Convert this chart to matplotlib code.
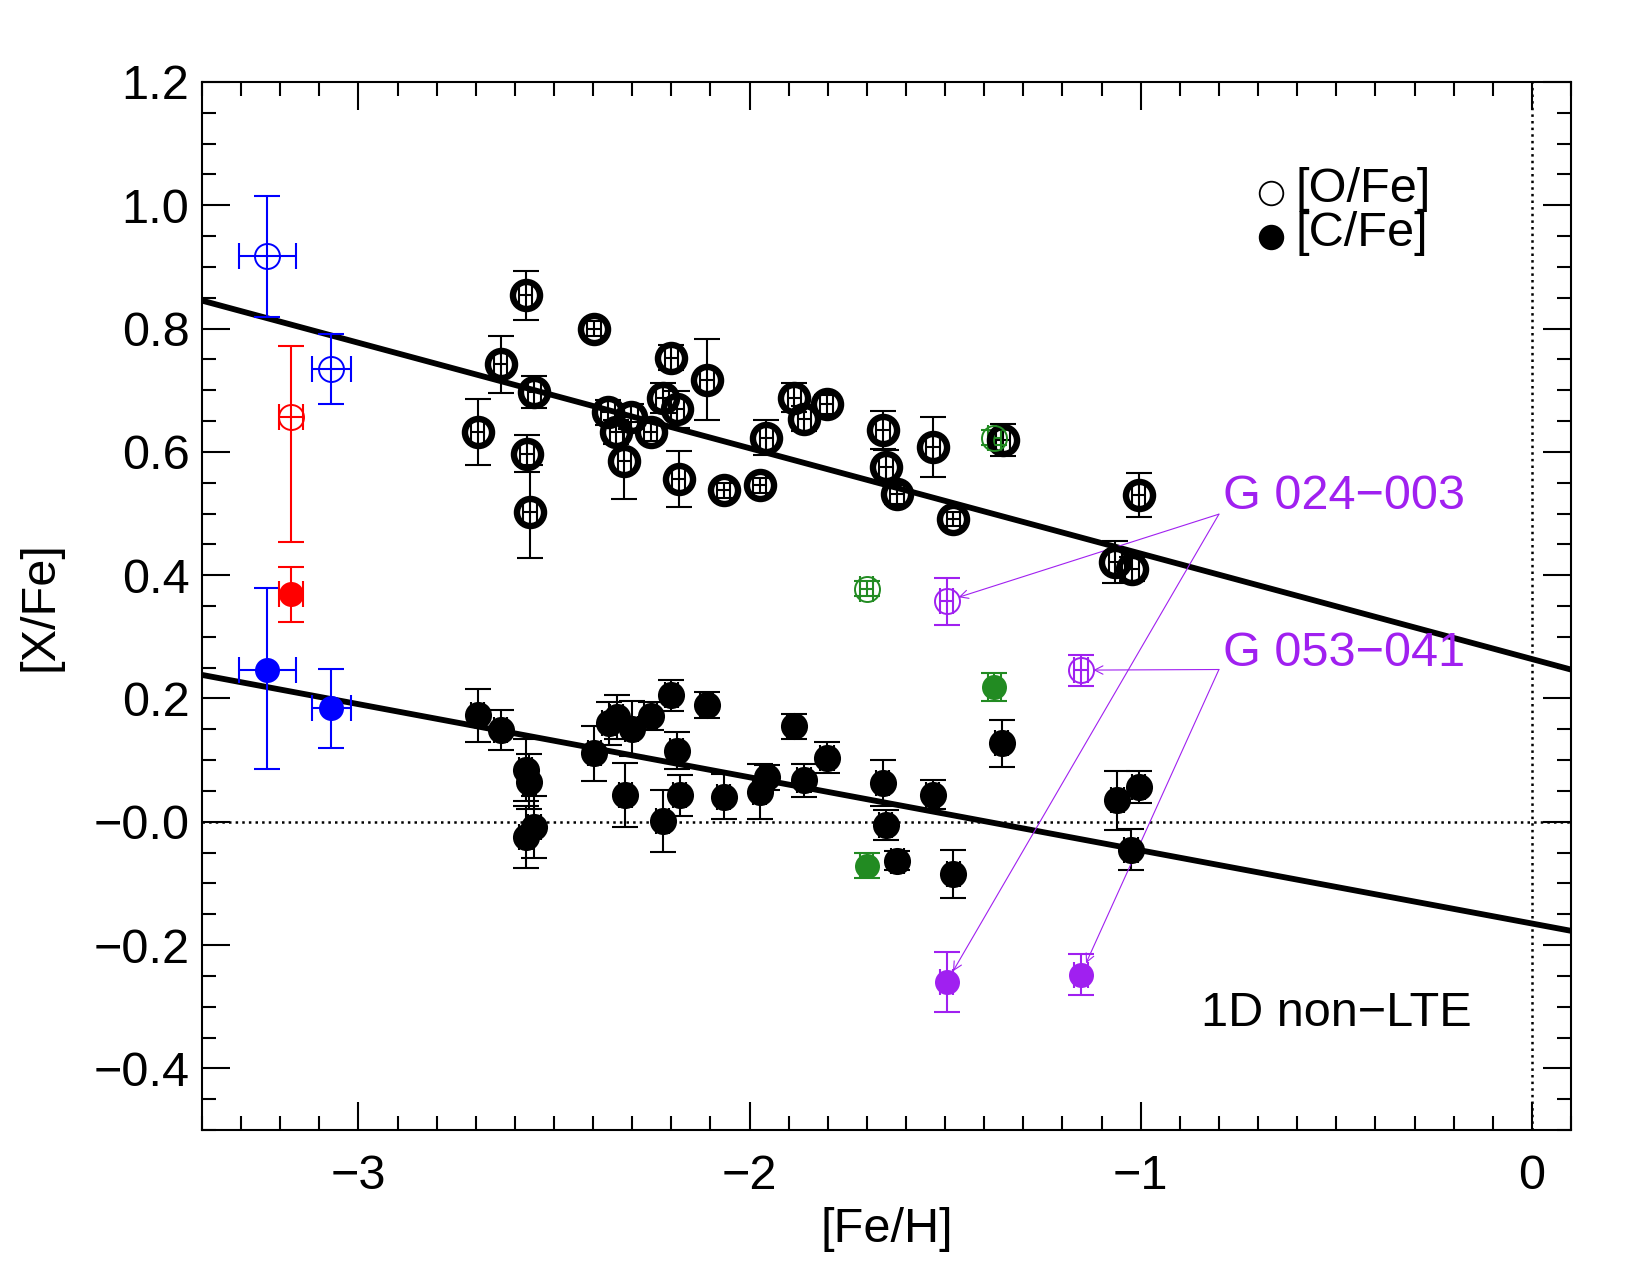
import numpy as np
import matplotlib
matplotlib.use("Agg")
import matplotlib.pyplot as plt

plt.rcParams['font.family'] = ['Liberation Sans', 'DejaVu Sans']

# black stars: [Fe/H], [O/Fe], err, [C/Fe], err
feh = [-2.695, -2.636, -2.572, -2.569, -2.561, -2.550, -2.398, -2.362, -2.341, -2.320,
       -2.303, -2.253, -2.222, -2.200, -2.185, -2.181, -2.109, -2.066, -1.974, -1.957,
       -1.886, -1.860, -1.803, -1.659, -1.651, -1.623, -1.531, -1.479, -1.352, -1.065,
       -1.022, -1.005]
ofe = [0.632, 0.742, 0.854, 0.597, 0.503, 0.697, 0.800, 0.664, 0.632, 0.586,
       0.657, 0.632, 0.687, 0.753, 0.669, 0.556, 0.717, 0.538, 0.546, 0.623,
       0.688, 0.654, 0.677, 0.635, 0.576, 0.531, 0.608, 0.491, 0.619, 0.421,
       0.410, 0.530]
ofe_err = [0.053, 0.046, 0.040, 0.030, 0.075, 0.026, 0.012, 0.020, 0.020, 0.063,
           0.020, 0.015, 0.024, 0.020, 0.030, 0.045, 0.066, 0.012, 0.012, 0.028,
           0.024, 0.020, 0.015, 0.031, 0.027, 0.015, 0.049, 0.012, 0.026, 0.034,
           0.020, 0.036]
feh_c = [-2.695, -2.636, -2.572, -2.563, -2.572, -2.550, -2.397, -2.360, -2.340, -2.318,
         -2.301, -2.253, -2.222, -2.200, -2.186, -2.179, -2.110, -2.066, -1.974, -1.955,
         -1.887, -1.861, -1.802, -1.660, -1.652, -1.622, -1.532, -1.479, -1.355, -1.060,
         -1.025, -1.005]
cfe = [0.173, 0.149, 0.084, 0.065, -0.025, -0.008, 0.111, 0.160, 0.170, 0.044,
       0.151, 0.172, 0.001, 0.205, 0.115, 0.043, 0.190, 0.041, 0.049, 0.072,
       0.155, 0.067, 0.104, 0.063, -0.005, -0.063, 0.044, -0.084, 0.127, 0.035,
       -0.045, 0.057]
cfe_err = [0.043, 0.033, 0.050, 0.045, 0.050, 0.050, 0.045, 0.035, 0.036, 0.052,
           0.045, 0.023, 0.050, 0.025, 0.030, 0.033, 0.021, 0.037, 0.045, 0.020,
           0.020, 0.026, 0.025, 0.038, 0.024, 0.015, 0.023, 0.039, 0.038, 0.048,
           0.033, 0.026]
feh_err = 0.017

# blue stars
blue_feh = [-3.233, -3.069]
blue_feh_err = [0.073, 0.049]
blue_ofe = [0.917, 0.734]
blue_ofe_lo = [0.098, 0.057]
blue_ofe_hi = [0.098, 0.057]
blue_cfe = [0.247, 0.184]
blue_cfe_lo = [0.162, 0.064]
blue_cfe_hi = [0.132, 0.064]

# red star
red_feh = [-3.172]
red_feh_err = [0.030]
red_ofe = [0.657]
red_ofe_lo = [0.203]
red_ofe_hi = [0.115]
red_cfe = [0.369]
red_cfe_err = [0.045]

# green stars
green_feh = [-1.701, -1.374]
green_ofe = [0.378, 0.623]
green_ofe_err = [0.012, 0.012]
green_cfe = [-0.071, 0.219]
green_cfe_err = [0.020, 0.023]

# purple stars
purple_names = ["G 024\u2212003", "G 053\u2212041"]
purple_feh = [-1.496, -1.153]
purple_ofe = [0.358, 0.246]
purple_ofe_err = [0.038, 0.025]
purple_cfe = [-0.260, -0.248]
purple_cfe_err = [0.048, 0.033]
label_pos = [(-0.80, 0.499), (-0.80, 0.247)]
label_text_y = [0.527, 0.273]

# linear fits: intercept, slope
o_fit = [0.264, -0.171]
c_fit = [-0.165, -0.1186]

xticks = [-3, -2, -1, 0]
xtick_labels = ["\u22123", "\u22122", "\u22121", "0"]
yticks = [1.2, 1.0, 0.8, 0.6, 0.4, 0.2, 0.0, -0.2, -0.4]
ytick_labels = ["1.2", "1.0", "0.8", "0.6", "0.4", "0.2", "\u22120.0", "\u22120.2", "\u22120.4"]

purple = "#A020F0"
green = "#228B22"
fs = 35

fig = plt.figure(figsize=(16.5, 12.75), dpi=100)
ax = fig.add_axes([0.1224, 0.1137, 0.8297, 0.8220])

ax.axhline(0, color="black", ls=":", lw=1.8, zorder=1)
ax.axvline(0, color="black", ls=":", lw=1.8, zorder=1)

xx = np.array([-3.6, 0.3])
ax.plot(xx, o_fit[0] + o_fit[1] * xx, color="black", lw=4.2, zorder=2)
ax.plot(xx, c_fit[0] + c_fit[1] * xx, color="black", lw=4.2, zorder=2)


def points(x, y, yerr, xerr, col, filled, ms=18, mew=1.4):
    ax.errorbar(x, y, yerr=yerr, xerr=xerr, fmt="none", ecolor=col, elinewidth=1.5,
                capsize=9.5, capthick=1.5, zorder=3)
    if filled:
        ax.plot(x, y, ls="none", marker="o", ms=ms, mfc=col, mec=col, mew=0, zorder=4)
    else:
        ax.plot(x, y, ls="none", marker="o", ms=ms, mfc="none", mec=col, mew=mew, zorder=4)


points(feh, ofe, ofe_err, feh_err, "black", False, ms=19.5, mew=4.6)
points(feh_c, cfe, cfe_err, feh_err, "black", True, ms=19.5)
points(blue_feh, blue_ofe, [blue_ofe_lo, blue_ofe_hi], blue_feh_err, "blue", False)
points(blue_feh, blue_cfe, [blue_cfe_lo, blue_cfe_hi], blue_feh_err, "blue", True)
points(red_feh, red_ofe, [red_ofe_lo, red_ofe_hi], red_feh_err, "red", False)
points(red_feh, red_cfe, red_cfe_err, red_feh_err, "red", True)
points(green_feh, green_ofe, green_ofe_err, feh_err, green, False)
points(green_feh, green_cfe, green_cfe_err, feh_err, green, True)
points(purple_feh, purple_ofe, purple_ofe_err, feh_err, purple, False)
points(purple_feh, purple_cfe, purple_cfe_err, feh_err, purple, True)

# labels with thin pointer lines
for i in range(len(purple_names)):
    x0, y0 = label_pos[i]
    ax.text(x0 + 0.01, label_text_y[i], purple_names[i], color=purple, fontsize=fs,
            ha="left", va="center")
    for ty in [purple_ofe[i], purple_cfe[i]]:
        ax.annotate("", xy=(purple_feh[i], ty), xytext=(x0, y0),
                    arrowprops=dict(arrowstyle="->,head_length=0.6,head_width=0.3",
                                    color=purple, lw=0.8, shrinkA=0, shrinkB=9))

ax.text(-0.845, -0.311, "1D non\u2212LTE", fontsize=fs, ha="left", va="center")

# legend drawn by hand
leg_y = [0.8945, 0.852]
leg_text = ["[O/Fe]", "[C/Fe]"]
leg_fill = ["none", "black"]
for i in range(2):
    ax.plot([0.781], [leg_y[i]], transform=ax.transAxes, ls="none", marker="o", ms=17,
            mfc=leg_fill[i], mec="black", mew=1.3, clip_on=False)
    ax.text(0.799, leg_y[i] + 0.003, leg_text[i], transform=ax.transAxes, fontsize=fs,
            ha="left", va="center")

ax.set_xlim(-3.4, 0.1)
ax.set_ylim(-0.5, 1.2)
ax.set_xticks(xticks)
ax.set_xticklabels(xtick_labels)
ax.set_yticks(yticks)
ax.set_yticklabels(ytick_labels)
ax.xaxis.set_minor_locator(matplotlib.ticker.MultipleLocator(0.1))
ax.yaxis.set_minor_locator(matplotlib.ticker.MultipleLocator(0.05))
ax.tick_params(which="both", direction="in", top=True, right=True, width=1.5)
ax.tick_params(which="major", length=20, labelsize=fs, pad=17)
ax.tick_params(which="minor", length=10)
ax.tick_params(axis="y", which="major", pad=9)
for s in ax.spines.values():
    s.set_linewidth(1.5)

ax.set_xlabel("[Fe/H]", fontsize=fs, labelpad=6)
ax.set_ylabel("[X/Fe]", fontsize=fs, labelpad=22)

plt.savefig("out.png", dpi=100)
